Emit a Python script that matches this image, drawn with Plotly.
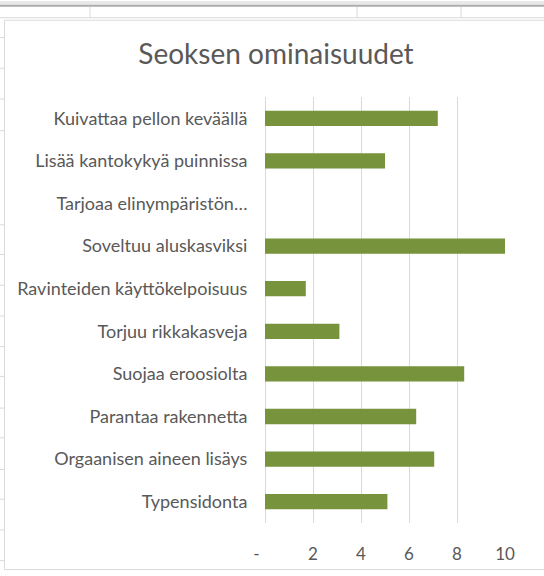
import plotly.graph_objects as go

categories = [
    "Kuivattaa pellon keväällä",
    "Lisää kantokykyä puinnissa",
    "Tarjoaa elinympäristön…",
    "Soveltuu aluskasviksi",
    "Ravinteiden käyttökelpoisuus",
    "Torjuu rikkakasveja",
    "Suojaa eroosiolta",
    "Parantaa rakennetta",
    "Orgaanisen aineen lisäys",
    "Typensidonta",
]
values = [7.2, 5.0, 0, 10.0, 1.7, 3.1, 8.3, 6.3, 7.05, 5.1]
tick_vals = [0, 2, 4, 6, 8, 10]
tick_text = ["-\u00a0\u00a0\u00a0\u00a0", "2", "4", "6", "8", "10"]

W, H = 544, 576
PL, PR, PT, PB = 265, 505, 97, 527
TEXT = "#595959"
FONT = "Lato"


def px(x):
    return (x - PL) / (PR - PL)


def py(y):
    return (PB - y) / (PB - PT)


shapes = []
# spreadsheet backdrop (decoration)
shapes.append(dict(type="rect", xref="paper", yref="paper", x0=px(0), x1=px(W), y0=py(0), y1=py(4),
                   fillcolor="#E8E8E8", line=dict(width=0), layer="below"))
shapes.append(dict(type="line", xref="paper", yref="paper", x0=px(0), x1=px(W), y0=py(5), y1=py(5),
                   line=dict(color="#ABABAB", width=2), layer="below"))
shapes.append(dict(type="line", xref="paper", yref="paper", x0=px(0), x1=px(W), y0=py(17), y1=py(17),
                   line=dict(color="#DADADA", width=1), layer="below"))
for vx in [90, 357, 461]:
    shapes.append(dict(type="line", xref="paper", yref="paper", x0=px(vx), x1=px(vx), y0=py(6), y1=py(17),
                       line=dict(color="#DADADA", width=1), layer="below"))
for ry in [37, 68, 99, 131, 226, 256, 287, 318, 349, 379, 411, 441, 473, 503, 534, 565]:
    shapes.append(dict(type="line", xref="paper", yref="paper", x0=px(0), x1=px(4), y0=py(ry), y1=py(ry),
                       line=dict(color="#DADADA", width=1), layer="below"))
# chart area
shapes.append(dict(type="rect", xref="paper", yref="paper", x0=px(4.5), x1=px(W + 20), y0=py(19.5), y1=py(574),
                   fillcolor="white", line=dict(color="#D9D9D9", width=1), layer="below"))

fig = go.Figure(go.Bar(
    x=values,
    y=categories,
    orientation="h",
    marker=dict(color="#77933C", line=dict(width=0)),
    hoverinfo="x+y",
))

fig.update_layout(
    width=W,
    height=H,
    margin=dict(l=PL, r=W - PR, t=PT, b=H - PB, pad=0),
    paper_bgcolor="white",
    plot_bgcolor="rgba(0,0,0,0)",
    bargap=0.64,
    showlegend=False,
    shapes=shapes,
    font=dict(family=FONT, color=TEXT, size=18),
    title=dict(
        text="Seoksen ominaisuudet",
        font=dict(family=FONT, size=28, color=TEXT),
        xref="container", yref="container",
        x=276 / W, xanchor="center",
        y=1 - 54 / H, yanchor="middle",
    ),
    xaxis=dict(
        range=[0, 10],
        tickvals=tick_vals,
        ticktext=tick_text,
        showgrid=True,
        gridcolor="#D9D9D9",
        gridwidth=1,
        zeroline=True,
        zerolinecolor="#D9D9D9",
        zerolinewidth=1,
        showline=False,
        ticks="outside",
        ticklen=16,
        tickcolor="rgba(0,0,0,0)",
        tickfont=dict(family=FONT, size=17, color=TEXT),
        fixedrange=True,
    ),
    yaxis=dict(
        type="category",
        autorange="reversed",
        showgrid=False,
        zeroline=False,
        showline=False,
        ticks="outside",
        ticklen=13,
        tickcolor="rgba(0,0,0,0)",
        tickfont=dict(family=FONT, size=18, color=TEXT),
        fixedrange=True,
    ),
)

fig.write_html(
    "out.html",
    config={"displayModeBar": False},
    post_script="document.body.style.margin='0';document.body.style.overflow='hidden';",
)
